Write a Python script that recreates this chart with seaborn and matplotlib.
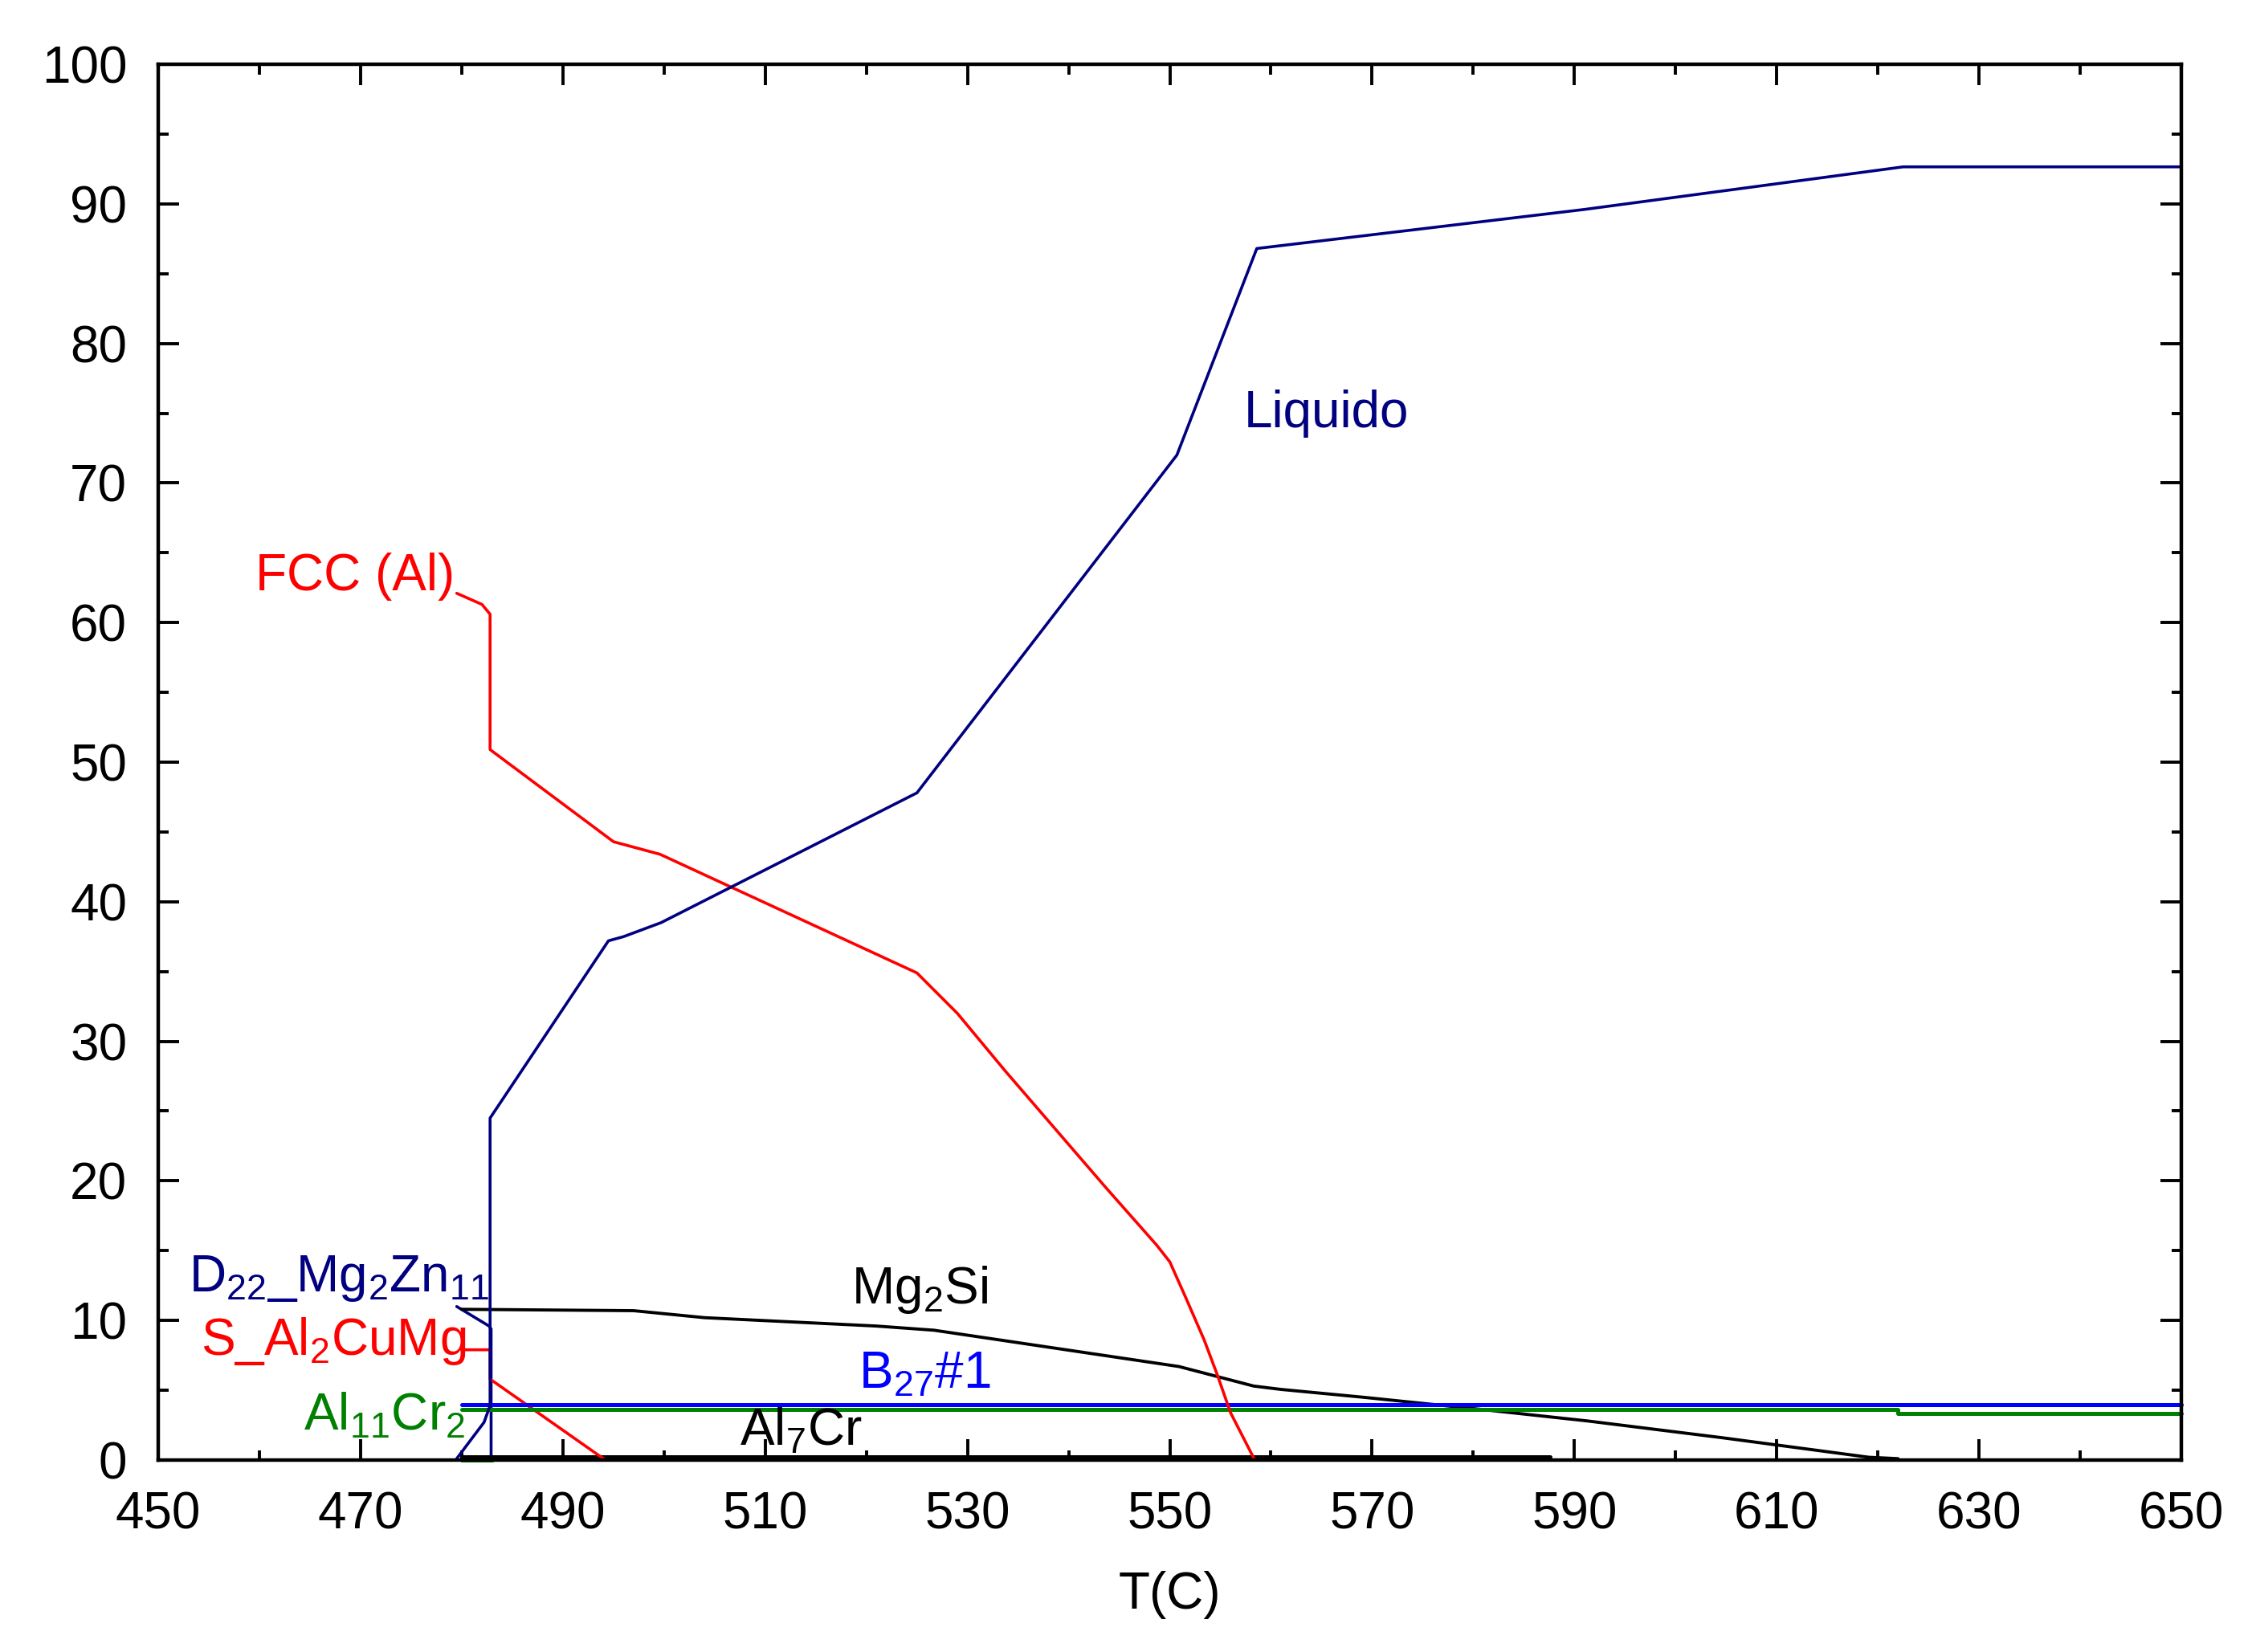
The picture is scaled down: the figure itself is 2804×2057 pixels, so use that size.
import seaborn as sns
import pandas as pd
import numpy as np
import matplotlib.pyplot as plt

# phase fractions (%) vs temperature (C)
liq_t = [479.5, 482.2, 482.8, 482.8, 494.5, 496.0, 499.7, 525.0, 550.7, 558.6, 591.0, 622.5, 650.0]
liq_v = [0.1, 2.7, 3.9, 24.5, 37.2, 37.5, 38.5, 47.8, 72.0, 86.8, 89.6, 92.65, 92.65]

fcc_t = [479.5, 482.0, 482.8, 482.8, 495.0, 499.6, 525.0, 529.0, 533.7, 538.7, 543.7, 548.7, 550.0, 551.6, 553.4, 554.7, 556.0, 558.4, 650.0]
fcc_v = [62.1, 61.3, 60.6, 50.9, 44.3, 43.4, 34.9, 32.0, 27.9, 23.7, 19.5, 15.4, 14.2, 11.6, 8.6, 6.1, 3.4, 0.0, 0.0]

mg2si_t = [480.0, 497.0, 504.0, 521.0, 526.7, 550.9, 558.3, 561.0, 569.1, 580.5, 591.3, 604.6, 619.1, 622.0]
mg2si_v = [10.8, 10.7, 10.2, 9.6, 9.3, 6.7, 5.3, 5.06, 4.5, 3.65, 2.8, 1.6, 0.2, 0.1]

d22_t = [479.5, 482.7, 482.9, 482.9, 650.0]
d22_v = [11.0, 9.6, 9.4, 0.0, 0.0]

s_t = [480.0, 482.8, 482.8, 494.2, 650.0]
s_v = [7.9, 7.9, 5.8, 0.0, 0.0]

b27_t = [480.0, 650.0]
b27_v = [3.95, 3.95]

al11_t = [480.0, 622.0, 622.0, 650.0]
al11_v = [3.65, 3.65, 3.35, 3.35]

al7_t = [480.0, 587.6]
al7_v = [0.25, 0.25]

other_t = [480.0, 483.0]
other_v = [0.0, 0.0]

sns.set_theme(style="ticks")
plt.rcParams['font.family'] = ['Liberation Sans', 'DejaVu Sans']
plt.rcParams['mathtext.fontset'] = 'custom'
plt.rcParams['mathtext.rm'] = 'Liberation Sans'
plt.rcParams['text.color'] = 'black'
plt.rcParams['axes.labelcolor'] = 'black'

fig = plt.figure(figsize=(14.02, 10.285), dpi=200)
ax = fig.add_axes([0.0703, 0.1162, 0.8983, 0.8449])

navy = '#000080'
series = [
    (d22_t, d22_v, navy, 1.3),
    (other_t, other_v, 'green', 1.8),
    (al7_t, al7_v, 'black', 1.8),
    (s_t, s_v, 'red', 1.3),
    (mg2si_t, mg2si_v, 'black', 1.4),
    (al11_t, al11_v, 'green', 1.8),
    (b27_t, b27_v, 'blue', 1.8),
    (fcc_t, fcc_v, 'red', 1.3),
    (liq_t, liq_v, navy, 1.3),
]
for t, v, c, w in series:
    sns.lineplot(x=t, y=v, sort=False, estimator=None, color=c, linewidth=w, ax=ax)
for ln in ax.lines:
    ln.set_clip_on(False)

fs = 23
ax.text(557.3, 75.0, 'Liquido', color=navy, fontsize=fs, va='center', ha='left')
ax.text(479.3, 63.3, 'FCC (Al)', color='red', fontsize=fs, va='center', ha='right')
ax.text(482.7, 13.0, 'D$_\\mathregular{22}$_Mg$_\\mathregular{2}$Zn$_\\mathregular{11}$', color=navy, fontsize=fs, va='center', ha='right')
ax.text(480.4, 8.5, 'S_Al$_\\mathregular{2}$CuMg', color='red', fontsize=fs, va='center', ha='right')
ax.text(480.4, 3.2, 'Al$_\\mathregular{11}$Cr$_\\mathregular{2}$', color='green', fontsize=fs, va='center', ha='right')
ax.text(518.5, 12.2, 'Mg$_\\mathregular{2}$Si', color='black', fontsize=fs, va='center', ha='left')
ax.text(519.2, 6.1, 'B$_\\mathregular{27}$#1', color='blue', fontsize=fs, va='center', ha='left')
ax.text(507.5, 2.1, 'Al$_\\mathregular{7}$Cr', color='black', fontsize=fs, va='center', ha='left')

ax.set_xlim(450, 650)
ax.set_ylim(0, 100)
ax.set_xticks(np.arange(450, 651, 20))
ax.set_xticks(np.arange(460, 650, 20), minor=True)
ax.set_yticks(np.arange(0, 101, 10))
ax.set_yticks(np.arange(5, 100, 10), minor=True)
ax.tick_params(which='both', direction='in', top=True, right=True, width=1.4, labelsize=fs,
               colors='black', labelcolor='black')
ax.tick_params(which='major', length=9.5, pad=14)
ax.tick_params(which='minor', length=4.5)
for s in ax.spines.values():
    s.set_visible(True)
    s.set_linewidth(1.6)
    s.set_color('black')
ax.set_xlabel('T(C)', fontsize=fs, labelpad=14, color='black')
ax.set_ylabel('')

fig.savefig('out.png', dpi=200, facecolor='white')
